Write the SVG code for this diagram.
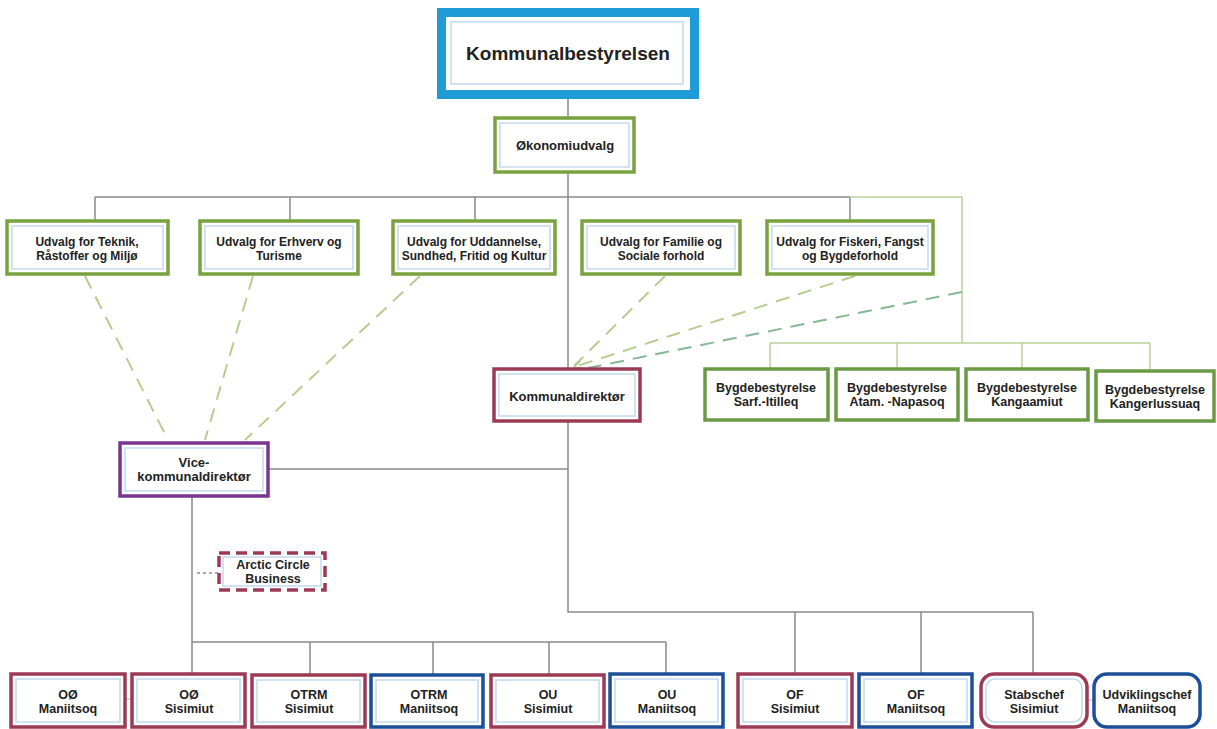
<svg xmlns="http://www.w3.org/2000/svg" width="1217" height="729" viewBox="0 0 1217 729">
<style>
text{font-family:"Liberation Sans",Arial,sans-serif;font-weight:bold;fill:#222;text-anchor:middle}
.t12{font-size:12px}.t125{font-size:12.5px}.t13{font-size:13px}
.g{fill:#fff;stroke:#78a23e;stroke-width:3.5}
.gd{fill:#fff;stroke:#6b9a45;stroke-width:3.5}
.r{fill:#fff;stroke:#9c3a56;stroke-width:3.5}
.b{fill:#fff;stroke:#1d4f99;stroke-width:3.5}
.p{fill:#fff;stroke:#7b3591;stroke-width:3.5}
.ra{fill:#fff;stroke:#9c3a56;stroke-width:3.5;stroke-dasharray:11 6}
.in{fill:none;stroke:#c3d9ef;stroke-width:1.5}
.ln{stroke:#8a8a8a;stroke-width:1.5;fill:none}
.lg{stroke:#b9d29a;stroke-width:1.5;fill:none}
.dg{stroke:#b7cc8f;stroke-width:2;fill:none;stroke-dasharray:14 9}
.dt{stroke:#86b894;stroke-width:2;fill:none;stroke-dasharray:14 9}
</style>
<defs>
<marker id="arr" viewBox="0 0 10 10" refX="9" refY="5" markerWidth="9" markerHeight="9" orient="auto" markerUnits="userSpaceOnUse">
<path d="M0,1 L9,5 L0,9" fill="none" stroke="#a8c88a" stroke-width="1.3"/>
</marker>
</defs>
<rect width="1217" height="729" fill="#fff"/>
<g id="connectors">
<path class="ln" d="M568,99V118M568,172V369M95,197H850M95,197V221M290,197V221M475,197V221M850,197V221"/>
<path class="lg" d="M850,197H962V343M770,343H1150M770,343V369M897,343V369M1022,343V369M1150,343V369"/>
<path class="dg" d="M85,276L168,440M253,276L205,440M420,276L245,440M665,276L574,366"/>
<path class="dg" d="M855,276L574,367" marker-end="url(#arr)"/>
<path class="dt" d="M962,292L578,370"/>
<path class="ln" d="M268,469H568M192,496V674M192,642H666M310,642V674M433,642V674M549,642V674M666,642V674"/>
<path class="ln" d="M568,421V612H1033M795,612V674M921,612V674M1033,612V673"/>
<path class="ln" d="M197,573H218" stroke-dasharray="3 3"/>
<path d="M125,699H132M1087,700H1093" stroke="#c8c8c8" stroke-width="1.5"/>
</g>
<g id="kommunalbestyrelsen">
<rect x="441.5" y="12.5" width="253" height="82" fill="#fff" stroke="#1f9bd7" stroke-width="9"/>
<rect class="in" x="451" y="22" width="232" height="62"/>
<text x="568" y="60" style="font-size:19px">Kommunalbestyrelsen</text>
</g>
<g id="okonomiudvalg">
<rect class="g" x="495" y="118" width="139" height="54"/>
<rect class="in" x="500" y="123" width="129" height="44"/>
<text class="t13" x="565" y="150">Økonomiudvalg</text>
</g>
<g id="udvalg-teknik">
<rect class="g" x="7" y="221" width="161" height="53"/>
<rect class="in" x="12" y="226" width="151" height="43"/>
<text class="t12" x="87" y="246">Udvalg for Teknik,</text>
<text class="t12" x="87" y="260">Råstoffer og Miljø</text>
</g>
<g id="udvalg-erhverv">
<rect class="g" x="200" y="221" width="158" height="53"/>
<rect class="in" x="205" y="226" width="148" height="43"/>
<text class="t12" x="279" y="246">Udvalg for Erhverv og</text>
<text class="t12" x="279" y="260">Turisme</text>
</g>
<g id="udvalg-uddannelse">
<rect class="g" x="393" y="221" width="162" height="53"/>
<rect class="in" x="398" y="226" width="152" height="43"/>
<text class="t12" x="474" y="246">Udvalg for Uddannelse,</text>
<text class="t12" x="474" y="260">Sundhed, Fritid og Kultur</text>
</g>
<g id="udvalg-familie">
<rect class="g" x="582" y="221" width="158" height="53"/>
<rect class="in" x="587" y="226" width="148" height="43"/>
<text class="t12" x="661" y="246">Udvalg for Familie og</text>
<text class="t12" x="661" y="260">Sociale forhold</text>
</g>
<g id="udvalg-fiskeri">
<rect class="g" x="767" y="221" width="166" height="53"/>
<rect class="in" x="772" y="226" width="156" height="43"/>
<text class="t12" x="850" y="246">Udvalg for Fiskeri, Fangst</text>
<text class="t12" x="850" y="260">og Bygdeforhold</text>
</g>
<g id="kommunaldirektor">
<rect class="r" x="494" y="369" width="146" height="52"/>
<rect class="in" x="499" y="374" width="136" height="42"/>
<text class="t13" x="567" y="401">Kommunaldirektør</text>
</g>
<g id="bygde-sarfitilleq">
<rect class="gd" x="705" y="369" width="123" height="51"/>
<text class="t125" x="766" y="392">Bygdebestyrelse</text>
<text class="t125" x="766" y="406">Sarf.-Itilleq</text>
</g>
<g id="bygde-atammik">
<rect class="gd" x="836" y="369" width="122" height="51"/>
<text class="t125" x="897" y="392">Bygdebestyrelse</text>
<text class="t125" x="897" y="406">Atam. -Napasoq</text>
</g>
<g id="bygde-kangaamiut">
<rect class="gd" x="966" y="369" width="122" height="51"/>
<text class="t125" x="1027" y="392">Bygdebestyrelse</text>
<text class="t125" x="1027" y="406">Kangaamiut</text>
</g>
<g id="bygde-kangerlussuaq">
<rect class="gd" x="1096" y="371" width="118" height="50"/>
<text class="t125" x="1155" y="394">Bygdebestyrelse</text>
<text class="t125" x="1155" y="408">Kangerlussuaq</text>
</g>
<g id="vicekommunaldirektor">
<rect class="p" x="120" y="443" width="148" height="53"/>
<rect class="in" x="125" y="448" width="138" height="43"/>
<text class="t13" x="194" y="467">Vice-</text>
<text class="t13" x="194" y="481">kommunaldirektør</text>
</g>
<g id="arctic-circle-business">
<rect class="ra" x="219" y="553" width="106" height="37"/>
<rect class="in" x="223" y="557" width="98" height="29"/>
<text class="t125" x="273" y="569">Arctic Circle</text>
<text class="t125" x="273" y="583">Business</text>
</g>
<g id="oo-maniitsoq">
<rect class="r" x="11" y="674" width="114" height="53"/>
<rect class="in" x="16" y="679" width="104" height="43"/>
<text class="t125" x="68" y="699">OØ</text>
<text class="t125" x="68" y="713">Maniitsoq</text>
</g>
<g id="oo-sisimiut">
<rect class="r" x="132" y="674" width="113" height="53"/>
<rect class="in" x="137" y="679" width="103" height="43"/>
<text class="t125" x="189" y="699">OØ</text>
<text class="t125" x="189" y="713">Sisimiut</text>
</g>
<g id="otrm-sisimiut">
<rect class="r" x="252" y="675" width="113" height="52"/>
<rect class="in" x="257" y="680" width="103" height="42"/>
<text class="t125" x="309" y="699">OTRM</text>
<text class="t125" x="309" y="713">Sisimiut</text>
</g>
<g id="otrm-maniitsoq">
<rect class="b" x="371" y="675" width="112" height="52"/>
<rect class="in" x="376" y="680" width="102" height="42"/>
<text class="t125" x="429" y="699">OTRM</text>
<text class="t125" x="429" y="713">Maniitsoq</text>
</g>
<g id="ou-sisimiut">
<rect class="r" x="491" y="675" width="113" height="52"/>
<rect class="in" x="496" y="680" width="103" height="42"/>
<text class="t125" x="548" y="699">OU</text>
<text class="t125" x="548" y="713">Sisimiut</text>
</g>
<g id="ou-maniitsoq">
<rect class="b" x="610" y="674" width="113" height="53"/>
<rect class="in" x="615" y="679" width="103" height="43"/>
<text class="t125" x="667" y="699">OU</text>
<text class="t125" x="667" y="713">Maniitsoq</text>
</g>
<g id="of-sisimiut">
<rect class="r" x="738" y="674" width="114" height="53"/>
<rect class="in" x="743" y="679" width="104" height="43"/>
<text class="t125" x="795" y="699">OF</text>
<text class="t125" x="795" y="713">Sisimiut</text>
</g>
<g id="of-maniitsoq">
<rect class="b" x="859" y="674" width="113" height="53"/>
<rect class="in" x="864" y="679" width="103" height="43"/>
<text class="t125" x="916" y="699">OF</text>
<text class="t125" x="916" y="713">Maniitsoq</text>
</g>
<g id="stabschef-sisimiut">
<rect class="r" x="981" y="674" width="106" height="53" rx="13"/>
<rect class="in" x="986" y="679" width="96" height="43" rx="9"/>
<text class="t125" x="1034" y="699">Stabschef</text>
<text class="t125" x="1034" y="713">Sisimiut</text>
</g>
<g id="udviklingschef-maniitsoq">
<rect class="b" x="1094" y="674" width="106" height="53" rx="13"/>
<text class="t125" x="1147" y="699">Udviklingschef</text>
<text class="t125" x="1147" y="713">Maniitsoq</text>
</g>
</svg>
